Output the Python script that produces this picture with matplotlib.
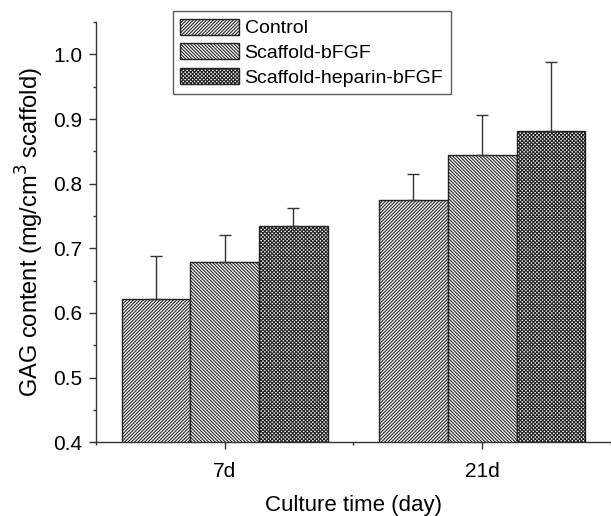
import numpy as np
from matplotlib import pyplot as plt
from matplotlib.ticker import MultipleLocator

plt.rcParams['font.family'] = ['Liberation Sans', 'DejaVu Sans']
plt.rcParams['hatch.linewidth'] = 0.8

days = ["7d", "21d"]
groups = ["Control", "Scaffold-bFGF", "Scaffold-heparin-bFGF"]
means = [[0.621, 0.775],
         [0.679, 0.845],
         [0.735, 0.882]]
errs = [[0.067, 0.040],
        [0.041, 0.061],
        [0.027, 0.106]]
hatches = ["/" * 10, "\\" * 10, "x" * 9]

fig = plt.figure(figsize=(6.11, 5.16), dpi=100)
ax = fig.add_axes([0.157, 0.143, 0.843, 0.814])

x = np.arange(1, len(days) + 1)
w = 0.267
for i, g in enumerate(groups):
    pos = x + (i - 1) * w
    ax.bar(pos, means[i], width=w, bottom=0, color="white", edgecolor="#222222",
           linewidth=1.0, hatch=hatches[i], label=g)
    ax.errorbar(pos, means[i], yerr=[np.zeros(len(days)), errs[i]], fmt="none",
                ecolor="#333333", elinewidth=1.0, capsize=4, capthick=1.0)

ax.set_xlim(0.5, 2.5)
ax.set_ylim(0.4, 1.05)
ax.set_xticks(x)
ax.set_xticklabels(days)
ax.xaxis.set_minor_locator(MultipleLocator(0.5))
ax.yaxis.set_minor_locator(MultipleLocator(0.05))
ticks = np.arange(0.4, 1.01, 0.1)
ax.set_yticks(ticks)
ax.set_yticklabels(["%.1f" % v for v in ticks])

for s in ["top", "right"]:
    ax.spines[s].set_visible(False)
for s in ["left", "bottom"]:
    ax.spines[s].set_color("#333333")
    ax.spines[s].set_linewidth(1.0)
ax.tick_params(which="major", direction="out", length=5, width=1, colors="#333333",
               labelsize=15, labelcolor="black")
ax.tick_params(which="minor", direction="out", length=2.5, width=1, colors="#333333")
ax.tick_params(axis="x", which="major", pad=9)
ax.tick_params(axis="y", which="major", pad=5)

ax.set_xlabel("Culture time (day)", fontsize=16, labelpad=10)
ax.set_ylabel("GAG content (mg/cm$^3$ scaffold)", fontsize=17, labelpad=5)

leg = ax.legend(loc="upper left", bbox_to_anchor=(0.13, 1.05), fontsize=14,
                frameon=True, fancybox=False, edgecolor="#333333",
                handlelength=3.0, handleheight=0.9, handletextpad=0.3,
                labelspacing=0.3, borderpad=0.4)
leg.get_frame().set_linewidth(1.0)

plt.savefig("out.png", dpi=100)
